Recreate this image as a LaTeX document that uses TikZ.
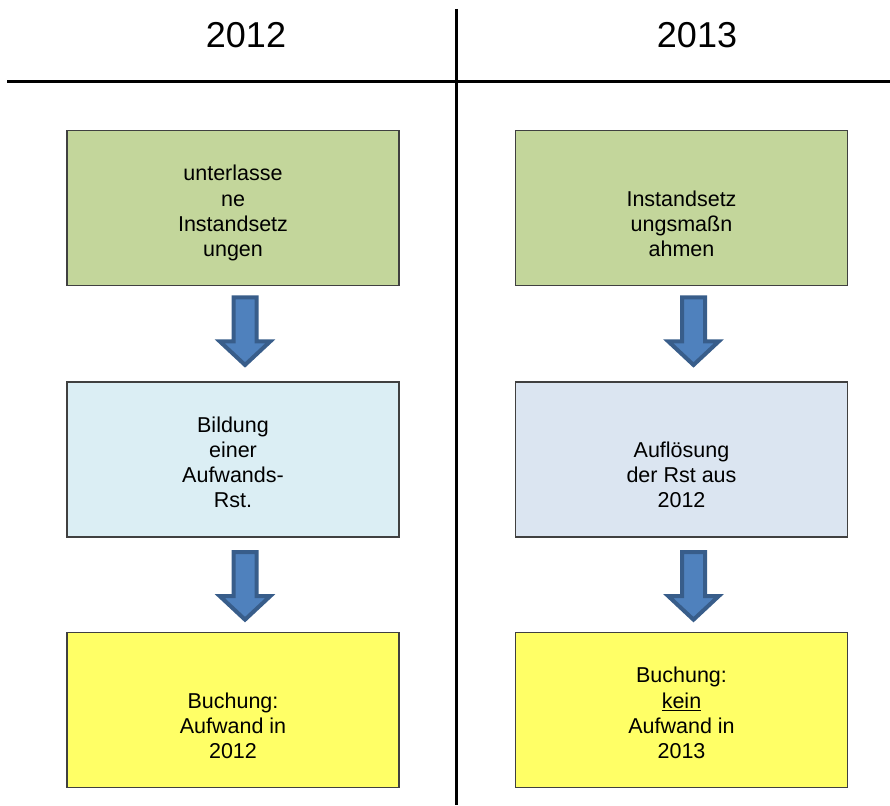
\documentclass[tikz,border=0pt]{standalone}
\usepackage{fontspec}
\setmainfont{Liberation Sans}
\usetikzlibrary{calc}

\definecolor{boxgreen}{HTML}{C3D69B}
\definecolor{boxcyan}{HTML}{DBEEF4}
\definecolor{boxblue}{HTML}{DBE5F1}
\definecolor{boxyellow}{HTML}{FFFF66}
\definecolor{arrowfill}{HTML}{4F81BD}
\definecolor{arrowline}{HTML}{385D8A}

\newcommand{\boxlines}[1]{\begin{tabular}[b]{@{}c@{}}#1\end{tabular}}

\begin{document}
\begin{tikzpicture}[x=1pt,y=1pt,
    stepbox/.style={draw=black!75, line width=1.2pt, inner sep=0pt,
      minimum width=332pt, text height=126pt, text depth=29pt,
      font=\fontsize{21.5}{25.3}\selectfont},
    blockarrow/.style={draw=arrowline, fill=arrowfill, line width=4pt, line join=miter},
    year/.style={anchor=base, font=\fontsize{36}{40}\selectfont}]
  \useasboundingbox (0,0) rectangle (890,805);
  \draw [line width=3pt] (456,796) -- (456,0);
  \draw [line width=3pt] (7,723.5) -- (890,723.5);
  \node [year] (y12) at (246,757) {2012};
  \node [year] (y13) at (697,757) {2013};
  \node [stepbox, fill=boxgreen] (l1) at (233,596.8) {\boxlines{unterlasse\\ne\\Instandsetz\\ungen}};
  \node [stepbox, fill=boxcyan] (l2) at (233,345.5) {\boxlines{Bildung\\einer\\Aufwands-\\Rst.}};
  \node [stepbox, fill=boxyellow] (l3) at (233,94.8) {\boxlines{Buchung:\\Aufwand in\\2012}};
  \node [stepbox, fill=boxgreen] (r1) at (681.5,596.8) {\boxlines{Instandsetz\\ungsmaßn\\ahmen}};
  \node [stepbox, fill=boxblue] (r2) at (681.5,345.5) {\boxlines{Auflösung\\der Rst aus\\2012}};
  \node [stepbox, fill=boxyellow] (r3) at (681.5,94.8) {\boxlines{Buchung:\\\underline{kein}\\Aufwand in\\2013}};
  \foreach \a/\b/\s in {l1/l2/36.4, l2/l3/32.7, r1/r2/36.4, r2/r3/32.7}
    \draw [blockarrow] ($(\a.south)!0.5!(\b.north)+(12,\s)$) ++(-11.5,0)
      -- ++(23,0) -- ++(0,-44) -- ++(13.7,0) -- ++(-25.2,-23.5)
      -- ++(-25.2,23.5) -- ++(13.7,0) -- cycle;
\end{tikzpicture}
\end{document}
